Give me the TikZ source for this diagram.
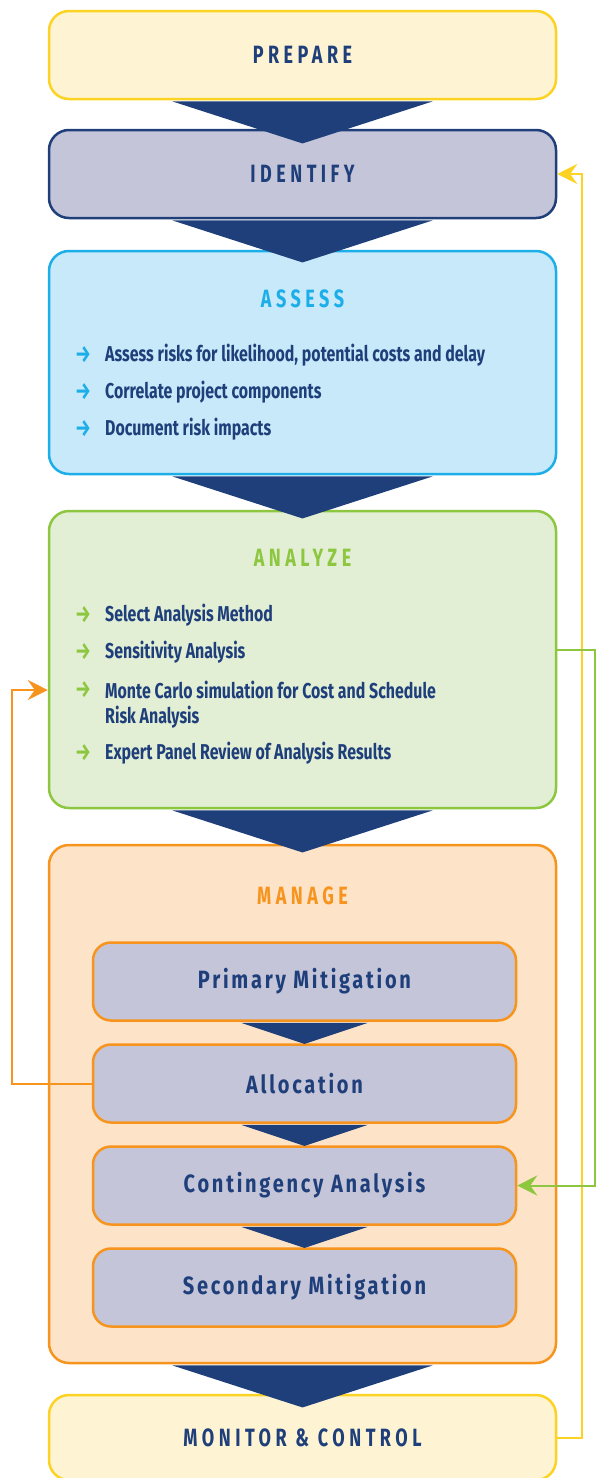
\documentclass[tikz,border=0pt]{standalone}
\usepackage{fontspec}
\setmainfont{Fira Sans}[FakeStretch=0.74]
\newfontfamily\titlefont{Fira Sans}[FakeStretch=0.72,LetterSpace=18]
\newfontfamily\stepfont{Fira Sans}[FakeStretch=0.8,LetterSpace=11]
\usetikzlibrary{arrows.meta,positioning}

\definecolor{navy}{HTML}{1F3F7B}
\definecolor{paleyellow}{HTML}{FEF4D4}
\definecolor{sunyellow}{HTML}{FCD323}
\definecolor{lavender}{HTML}{C5C5D9}
\definecolor{skyfill}{HTML}{C8E9F9}
\definecolor{skyline}{HTML}{1BAEE9}
\definecolor{leaffill}{HTML}{E2EFD5}
\definecolor{leafline}{HTML}{8DC63F}
\definecolor{peachfill}{HTML}{FDE3C7}
\definecolor{orangeline}{HTML}{F7941D}

\begin{document}
\begin{tikzpicture}[x=1pt,y=-1pt,
  stage/.style={draw,rounded corners=20pt,line width=2.5pt,minimum width=507pt,inner sep=0pt,
    text=navy,font=\titlefont\fontsize{25}{28}\selectfont\bfseries},
  substage/.style={draw=orangeline,fill=lavender,rounded corners=18pt,line width=2.5pt,
    minimum width=423pt,minimum height=78pt,inner sep=0pt,
    text=navy,font=\stepfont\fontsize{25}{28}\selectfont\bfseries},
  heading/.style={font=\titlefont\fontsize{25}{28}\selectfont\bfseries},
  item/.style={anchor=west,inner sep=0pt,text=navy,align=left,
    font=\fontsize{21.5}{25}\selectfont\bfseries},
  tick/.style={inner sep=0pt,font=\fontsize{24}{26}\selectfont\bfseries},
  feedback/.style={line width=2pt,-{Stealth[length=20pt,width=20pt,inset=7pt]}}]
  \useasboundingbox (0,0) rectangle (596,1478);
  \clip (0,0) rectangle (596,1478);

  % stages
  \node[stage,fill=paleyellow,draw=sunyellow,minimum height=88pt] (prepare) at (302.5,55) {PREPARE};
  \node[stage,fill=lavender,draw=navy,minimum height=88pt] (identify) at (302.5,174) {IDENTIFY};
  \node[stage,fill=skyfill,draw=skyline,minimum height=223pt] (assess) at (302.5,362.5) {};
  \node[stage,fill=leaffill,draw=leafline,minimum height=297pt] (analyze) at (302.5,659.5) {};
  \node[stage,fill=peachfill,draw=orangeline,minimum height=518pt] (manage) at (302.5,1104) {};
  \node[stage,fill=paleyellow,draw=sunyellow,minimum height=85pt] (monitor) at (302.5,1437.5) {MONITOR \& CONTROL};

  % assess
  \node[heading,text=skyline] (assesstitle) at (302.5,299) {ASSESS};
  \node[tick,text=skyline] (at1) at (83,355) {→};
  \node[item] (ai1) at (105,355) {Assess risks for likelihood, potential costs and delay};
  \node[tick,text=skyline] (at2) at (83,392) {→};
  \node[item] (ai2) at (105,392) {Correlate project components};
  \node[tick,text=skyline] (at3) at (83,429) {→};
  \node[item] (ai3) at (105,429) {Document risk impacts};

  % analyze
  \node[heading,text=leafline] (analyzetitle) at (302.5,558) {ANALYZE};
  \node[tick,text=leafline] (nt1) at (83,615) {→};
  \node[item] (ni1) at (105,615) {Select Analysis Method};
  \node[tick,text=leafline] (nt2) at (83,652) {→};
  \node[item] (ni2) at (105,652) {Sensitivity Analysis};
  \node[tick,text=leafline] (nt3) at (83,690) {→};
  \node[item,anchor=north west] (ni3) at (105,681) {Monte Carlo simulation for Cost and Schedule\\Risk Analysis};
  \node[tick,text=leafline] (nt4) at (83,753) {→};
  \node[item] (ni4) at (105,753) {Expert Panel Review of Analysis Results};

  % manage
  \node[heading,text=orangeline] (managetitle) at (302.5,896) {MANAGE};
  \node[substage] (primary) at (304.5,981.5) {Primary Mitigation};
  \node[substage] (allocation) at (304.5,1083.5) {Allocation};
  \node[substage] (contingency) at (304.5,1185.5) {Contingency Analysis};
  \node[substage] (secondary) at (304.5,1287.5) {Secondary Mitigation};

  % chevrons
  \foreach \n in {prepare,identify,assess,analyze,manage}
    \fill[navy] (\n.south) ++(-130,1.2) -- ++(260,0) -- ++(-130,42) -- cycle;
  \foreach \n in {primary,allocation,contingency}
    \fill[navy] (\n.south) ++(-63,1.2) -- ++(126,0) -- ++(-63,21) -- cycle;

  % feedback loops
  \draw[feedback,sunyellow] (monitor.east) -- ++(25,0) |- (identify.east);
  \draw[feedback,leafline] ([yshift=9.5pt]analyze.east) -- ++(38,0) |- (contingency.east);
  \draw[feedback,orangeline] (allocation.west) -- ++(-80,0) |- ([yshift=-30.5pt]analyze.west);
\end{tikzpicture}
\end{document}
